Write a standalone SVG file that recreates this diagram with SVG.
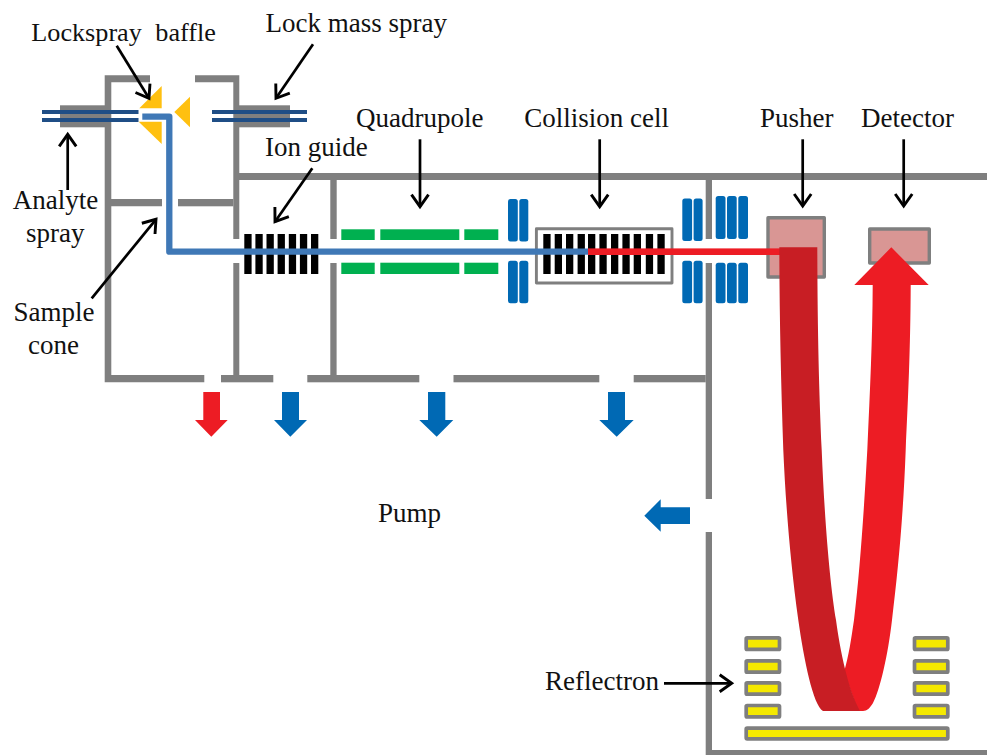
<svg xmlns="http://www.w3.org/2000/svg" width="987" height="755" viewBox="0 0 987 755">
<style>
text{font-family:"Liberation Serif","Times New Roman",serif;font-size:27px;fill:#111}
.wall{fill:#7f7f7f}
.lens{fill:#0069b4}
.green{fill:#00b050}
.bar{fill:#000}
.gold{fill:#ffc010}
.tube{fill:#1f4e86}
.box{fill:#d99694;stroke:#7f7f7f;stroke-width:3.4;stroke-linejoin:round}
.yel{fill:#f5e900;stroke:#7f7f7f;stroke-width:3.7;stroke-linejoin:round}
.conn{stroke:#000;stroke-width:2.7;fill:none;marker-end:url(#open)}
</style>
<defs>
<marker id="open" markerUnits="userSpaceOnUse" markerWidth="22" markerHeight="24" refX="15" refY="11" orient="auto" viewBox="0 0 22 22">
<path d="M3,2.5 L15,11 L3,19.5" fill="none" stroke="#000" stroke-width="2.9"/>
</marker>
<g id="lensPair"><rect class="lens" x="0" y="0" width="9.8" height="42.5" rx="2.5"/><rect class="lens" x="11.3" y="0" width="9" height="42.5" rx="2.5"/></g>
</defs>
<rect width="987" height="755" fill="#fff"/>
<g id="walls">
<path class="wall" d="M104.7,75.3H150V82.3H111.3V199H162V206.3H111.3V375H204.3V382.3H104.7Z"/>
<path class="wall" d="M195,75.3H239.3V173H987V180H712V239H705.7V180H336.7V239H330.3V180H239.3V239H233.3V82.3H195Z"/>
<rect class="wall" x="178" y="199" width="55.3" height="7.3"/>
<rect class="wall" x="233.3" y="263" width="6" height="112.5"/>
<rect class="wall" x="330.3" y="263" width="6.3" height="112.5"/>
<rect class="wall" x="221" y="375" width="52.3" height="7.3"/>
<rect class="wall" x="307.3" y="375" width="112" height="7.3"/>
<rect class="wall" x="453.5" y="375" width="145.8" height="7.3"/>
<rect class="wall" x="633.7" y="375" width="72" height="7.3"/>
<rect class="wall" x="705.7" y="263" width="6.3" height="236"/>
<path class="wall" d="M705.7,532H712V750H987V755H705.7Z"/>
</g>
<g id="analyte-spray">
<rect class="wall" x="60" y="105.3" width="45" height="22"/>
<rect class="tube" x="42" y="110" width="96.5" height="4"/>
<rect class="tube" x="42" y="118" width="96.5" height="4"/>
<text x="12.7" y="209.3">Analyte</text>
<text x="26" y="242.3">spray</text>
</g>
<g id="lock-mass-spray">
<rect class="wall" x="239" y="105.3" width="51" height="22"/>
<rect class="tube" x="212" y="110" width="95" height="4"/>
<rect class="tube" x="212" y="118" width="95" height="4"/>
<text x="265.5" y="32">Lock mass spray</text>
</g>
<g id="lockspray-baffle">
<polygon class="gold" points="139.3,108.3 161.7,86 161.7,108.3"/>
<polygon class="gold" points="138.7,121.7 161.7,121.7 161.7,144"/>
<polygon class="gold" points="174.3,112 190,96.7 190,127.3"/>
<text x="31.3" y="40.7" style="font-size:26.2px">Lockspray <tspan x="155.3">baffle</tspan></text>
</g>
<g id="sample-cone">
<text x="13.5" y="321.3">Sample</text>
<text x="28" y="354">cone</text>
</g>
<g id="ion-guide">
<rect class="bar" x="244.3" y="234" width="7.3" height="40"/><rect class="bar" x="255.4" y="234" width="7.3" height="40"/><rect class="bar" x="266.5" y="234" width="7.3" height="40"/><rect class="bar" x="277.6" y="234" width="7.3" height="40"/><rect class="bar" x="288.8" y="234" width="7.3" height="40"/><rect class="bar" x="299.9" y="234" width="7.3" height="40"/><rect class="bar" x="311" y="234" width="7.3" height="40"/>
<text x="265" y="156">Ion guide</text>
</g>
<g id="quadrupole">
<rect class="green" x="341.3" y="229.3" width="33.4" height="10.7"/><rect class="green" x="380.3" y="229.3" width="79" height="10.7"/><rect class="green" x="464.3" y="229.3" width="34" height="10.7"/>
<rect class="green" x="341.3" y="262.7" width="33.4" height="11.3"/><rect class="green" x="380.3" y="262.7" width="79" height="11.3"/><rect class="green" x="464.3" y="262.7" width="34" height="11.3"/>
<text x="356" y="126.7">Quadrupole</text>
</g>
<g id="lens-a">
<use href="#lensPair" x="508" y="199"/>
<use href="#lensPair" x="508" y="260.8"/>
</g>
<g id="collision-cell">
<rect x="536.4" y="228.7" width="135.6" height="54.3" fill="#fff" stroke="#7f7f7f" stroke-width="2.9" stroke-linejoin="round"/>
<rect class="bar" x="543.3" y="234" width="7.3" height="40"/><rect class="bar" x="554.7" y="234" width="7.3" height="40"/><rect class="bar" x="566" y="234" width="7.3" height="40"/><rect class="bar" x="577.6" y="234" width="7.3" height="40"/><rect class="bar" x="588" y="234" width="7.3" height="40"/><rect class="bar" x="599.4" y="234" width="7.3" height="40"/><rect class="bar" x="611" y="234" width="7.3" height="40"/><rect class="bar" x="622.4" y="234" width="7.3" height="40"/><rect class="bar" x="633.7" y="234" width="7.3" height="40"/><rect class="bar" x="645.8" y="234" width="7.3" height="40"/><rect class="bar" x="657.4" y="234" width="7.3" height="40"/>
<text x="524.3" y="126.7">Collision cell</text>
</g>
<g id="lens-b">
<use href="#lensPair" x="682.3" y="198.5"/>
<use href="#lensPair" x="682.3" y="260.8"/>
<rect class="lens" x="715.7" y="196" width="9.8" height="43" rx="2.5"/><rect class="lens" x="727" y="196" width="9.7" height="43" rx="2.5"/><rect class="lens" x="738.3" y="196" width="9.7" height="43" rx="2.5"/>
<rect class="lens" x="715.7" y="262.7" width="9.8" height="40.6" rx="2.5"/><rect class="lens" x="727" y="262.7" width="9.7" height="40.6" rx="2.5"/><rect class="lens" x="738.3" y="262.7" width="9.7" height="40.6" rx="2.5"/>
</g>
<g id="pusher">
<rect class="box" x="768" y="217.7" width="56.3" height="59.3"/>
<text x="760" y="127">Pusher</text>
</g>
<g id="detector">
<rect class="box" x="869.7" y="229" width="59.6" height="34"/>
<text x="861" y="127">Detector</text>
</g>
<g id="ion-beam">
<path d="M142.3,116.6H169.3V251.7H588" fill="none" stroke="#3f78b6" stroke-width="6.3" stroke-linejoin="round"/>
<rect x="588" y="248.4" width="192" height="6.6" fill="#ed1c24"/>
<path fill="#ed1c24" d="M891.3,247.3L928.7,285H910.7C910.5,350 908,400 905.7,450C903,520 898,570 892,620C888,655 880,690 873,703C870,708 867,711 863,711H858L844,672C849,655 851,640 854,620C860,570 864,510 867.3,450C870,390 872.5,340 872.7,285H854.3Z"/>
<path fill="#c81e24" d="M779.3,247.3H817.3C817.5,330 819,390 821.7,450C824.5,520 830,585 836,620C840,650 848,690 860,711H823C813,705 804,660 798.3,620C790,560 785.5,500 783.3,450C781,380 779.5,320 779.3,247.3Z"/>
</g>
<g id="reflectron">
<rect class="yel" x="746.2" y="637.8" width="33.3" height="11.6" rx="1"/><rect class="yel" x="746.2" y="660.8" width="33.3" height="11.4" rx="1"/><rect class="yel" x="746.2" y="682.8" width="33.3" height="11.4" rx="1"/><rect class="yel" x="746.2" y="705.5" width="33.3" height="11.4" rx="1"/>
<rect class="yel" x="914.5" y="637.8" width="33.3" height="11.6" rx="1"/><rect class="yel" x="914.5" y="660.8" width="33.3" height="11.4" rx="1"/><rect class="yel" x="914.5" y="682.8" width="33.3" height="11.4" rx="1"/><rect class="yel" x="914.5" y="705.5" width="33.3" height="11.4" rx="1"/>
<rect class="yel" x="746.2" y="728.2" width="201.6" height="10.6" rx="1"/>
<text x="545" y="690">Reflectron</text>
</g>
<g id="pump">
<polygon fill="#ed1c24" points="203.3,392 220,392 220,420 227.7,420 211.3,436.7 195,420 203.3,420"/>
<polygon class="lens" points="282,392 299,392 299,420 307,420 290.3,436.7 274,420 282,420"/>
<polygon class="lens" points="428,392 445.3,392 445.3,420 453.3,420 436.7,436.7 419.3,420 428,420"/>
<polygon class="lens" points="608,392 625,392 625,420 633.7,420 616.7,436.7 599.3,420 608,420"/>
<polygon class="lens" points="644.3,515.7 660.7,499.3 660.7,507.3 690,507.3 690,524 660.7,524 660.7,531.7"/>
<text x="378" y="522">Pump</text>
</g>
<g id="connectors">
<path class="conn" d="M116.7,45.7L149,98.3"/>
<path class="conn" d="M313,44.3L276,98.3"/>
<path class="conn" d="M67.7,190V134.3"/>
<path class="conn" d="M312.3,168.3L275,221.7"/>
<path class="conn" d="M91.7,298.3L156,219.3"/>
<path class="conn" d="M420,139.3V206.7"/>
<path class="conn" d="M599.7,139.3V206.7"/>
<path class="conn" d="M802.7,139.3V206"/>
<path class="conn" d="M903.7,139.3V206"/>
<path class="conn" d="M664,683.3H731.7"/>
</g>
</svg>
